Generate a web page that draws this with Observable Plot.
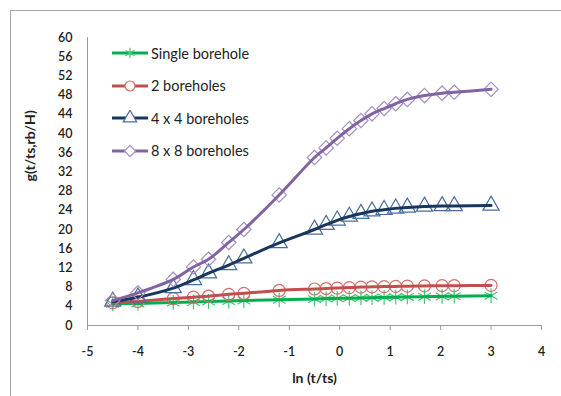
<!DOCTYPE html>
<html>
<head>
<meta charset="utf-8">
<script src="https://cdn.jsdelivr.net/npm/d3@7"></script>
<script src="https://cdn.jsdelivr.net/npm/@observablehq/plot@0.6"></script>
<style>
  html, body { margin: 0; padding: 0; background: #fff; overflow: hidden; }
  #wrap { position: relative; width: 561px; height: 396px; font-family: Lato, "Open Sans", sans-serif; }
  #frame { position: absolute; left: 10px; top: 10px; width: 600px; height: 450px; border: 1px solid #a6a6a6; box-sizing: border-box; pointer-events: none; }
  #legend { position: absolute; left: 112px; top: 37px; }
  .row { height: 32.5px; display: flex; align-items: center; font-size: 14.5px; color: #222; }
  .row svg { margin-right: 1px; }
</style>
</head>
<body>
<div id="wrap"><div id="frame"></div><div id="chart"></div><div id="legend"></div></div>
<script>
// ---- data ----
const lnT = [-4.5, -4, -3.3, -2.9, -2.6, -2.2, -1.9, -1.2, -0.5, -0.27, -0.05, 0.19, 0.42, 0.64, 0.88, 1.11, 1.34, 1.68, 2.03, 2.27, 3.0];
const gSingle = [4.5, 4.6, 4.8, 4.9, 5.0, 5.1, 5.2, 5.35, 5.5, 5.6, 5.65, 5.7, 5.75, 5.8, 5.85, 5.9, 5.95, 6.0, 6.05, 6.1, 6.2];
const gTwo    = [4.7, 5.0, 5.6, 5.9, 6.1, 6.5, 6.7, 7.3, 7.6, 7.7, 7.8, 7.9, 8.0, 8.05, 8.1, 8.15, 8.2, 8.25, 8.3, 8.3, 8.35];
const g4x4    = [5.0, 5.9, 7.8, 9.5, 10.9, 12.6, 14.0, 17.2, 20.0, 21.0, 21.9, 22.7, 23.3, 23.8, 24.1, 24.4, 24.6, 24.8, 24.9, 24.9, 25.0];
const g8x8    = [5.2, 6.8, 9.6, 12.2, 13.8, 17.3, 20.0, 27.2, 35.0, 37.0, 39.0, 41.0, 42.7, 44.1, 45.2, 46.2, 47.1, 47.9, 48.4, 48.6, 49.2];
const seriesNames = ["Single borehole", "2 boreholes", "4 x 4 boreholes", "8 x 8 boreholes"];
const xTicks = [-5, -4, -3, -2, -1, 0, 1, 2, 3, 4];
const yTicks = [0, 4, 8, 12, 16, 20, 24, 28, 32, 36, 40, 44, 48, 52, 56, 60];
const xLabel = "ln (t/ts)";
const yLabel = "g(t/ts,rb/H)";

// ---- styles ----
const styles = [
  {line: "#00B050", mark: "#43C774", symbol: "asterisk", r: 7},
  {line: "#C0504D", mark: "#D66F6C", symbol: "circle", r: 6},
  {line: "#17375E", mark: "#4A6D9C", symbol: "triangle", r: 6},
  {line: "#8064A2", mark: "#A58FC6", symbol: "diamond2", r: 6.5}
];
const values = [gSingle, gTwo, g4x4, g8x8];
const series = seriesNames.map((name, k) => ({name, values: values[k], ...styles[k]}));
const rowsOf = s => lnT.map((x, i) => ({x, y: s.values[i], name: s.name}));

const marks = [
  Plot.ruleY([0], {stroke: "#9a9a9a", strokeWidth: 1}),
  Plot.ruleX([-5], {stroke: "#9a9a9a", strokeWidth: 1}),
  Plot.axisX({ticks: xTicks, tickSize: 5, tickPadding: 17, stroke: "#9a9a9a", fill: "#222", label: null, fontWeight: 600, tickFormat: d => String(d).replace("−", "-")}),
  Plot.axisY({ticks: yTicks, tickSize: 0, tickPadding: 15, fill: "#222", label: null, fontWeight: 600}),
  Plot.text([xLabel], {text: d => d, frameAnchor: "bottom", dy: 57, fontWeight: "bold", fontSize: 14, fill: "#222"}),
  Plot.text([yLabel], {text: d => d, frameAnchor: "left", dx: -57, rotate: -90, fontWeight: "bold", fontSize: 14, fill: "#222"})
];
for (const s of series) {
  const rows = rowsOf(s);
  marks.push(Plot.dot(rows, {x: "x", y: "y", symbol: () => s.symbol, r: s.r, stroke: s.mark, fill: "none", strokeWidth: 1.2}));
  marks.push(Plot.line(rows, {x: "x", y: "y", stroke: s.line, strokeWidth: 3, curve: "catmull-rom"}));
}

const chart = Plot.plot({
  width: 561, height: 396,
  marginLeft: 87, marginRight: 20, marginTop: 37, marginBottom: 71,
  x: {domain: [-5, 4]},
  y: {domain: [0, 60]},
  symbol: {type: "identity"},
  style: {fontFamily: "Lato, 'Open Sans', sans-serif", fontSize: "12.5px", background: "transparent", overflow: "visible"},
  marks
});
document.getElementById("chart").appendChild(chart);

// ---- legend ----
const leg = d3.select("#legend");
const symMap = {asterisk: d3.symbolAsterisk, circle: d3.symbolCircle, triangle: d3.symbolTriangle, diamond2: d3.symbolDiamond2};
for (const s of series) {
  const row = leg.append("div").attr("class", "row");
  const svg = row.append("svg").attr("width", 38).attr("height", 16);
  svg.append("line").attr("x1", 0).attr("x2", 36).attr("y1", 8).attr("y2", 8).attr("stroke", s.line).attr("stroke-width", 3);
  svg.append("path").attr("transform", "translate(18,8)")
    .attr("d", d3.symbol(symMap[s.symbol], Math.PI * 5 * 5)())
    .attr("fill", "#fff").attr("stroke", s.mark).attr("stroke-width", 1.2);
  row.append("span").text(s.name);
}
</script>
</body>
</html>
